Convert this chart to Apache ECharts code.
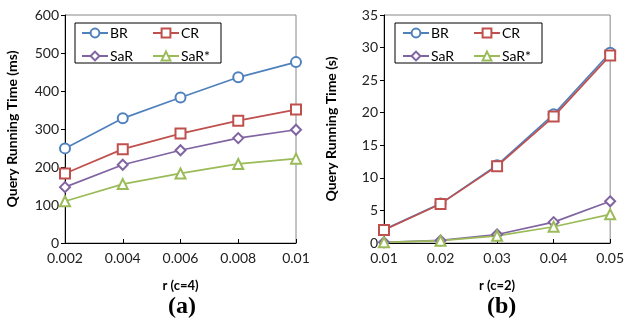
<!DOCTYPE html>
<html>
<head>
<meta charset="utf-8">
<script src="https://cdn.jsdelivr.net/npm/echarts@6/dist/echarts.min.js"></script>
<style>
  html, body { margin: 0; padding: 0; background: #fff; }
  #chart { width: 627px; height: 329px; }
</style>
</head>
<body>
<div id="chart"></div>
<script>
// panel (a): c=4, times in ms
const rLeft = ['0.002', '0.004', '0.006', '0.008', '0.01'];
const brLeft = [249, 328, 383, 436, 476];
const crLeft = [183, 247, 288, 322, 351];
const sarLeft = [147, 206, 244, 276, 298];
const sarStarLeft = [110, 155, 183, 208, 222];

// panel (b): c=2, times in s
const rRight = ['0.01', '0.02', '0.03', '0.04', '0.05'];
const brRight = [2.05, 6.05, 11.95, 19.75, 29.2];
const crRight = [2.0, 6.0, 11.8, 19.4, 28.8];
const sarRight = [0.1, 0.4, 1.3, 3.2, 6.4];
const sarStarRight = [0.1, 0.35, 1.1, 2.5, 4.4];

const FONT = 'Lato';
const colors = { BR: '#4F81BD', CR: '#C0504D', SaR: '#8064A2', 'SaR*': '#9BBB59' };
const symbols = { BR: 'emptyCircle', CR: 'emptyRect', SaR: 'emptyDiamond', 'SaR*': 'emptyTriangle' };

function mkSeries(name, data, idx) {
    return {
        name: name,
        type: 'line',
        xAxisIndex: idx,
        yAxisIndex: idx,
        data: data,
        symbol: symbols[name],
        symbolSize: 10,
        color: colors[name],
        lineStyle: { width: 1.7, color: colors[name] },
        itemStyle: { color: colors[name], borderWidth: 1.6 }
    };
}

function mkXAxis(idx, cats, name) {
    return {
        type: 'category',
        gridIndex: idx,
        data: cats,
        boundaryGap: false,
        name: name,
        nameLocation: 'middle',
        nameGap: 36,
        nameTextStyle: { fontFamily: FONT, fontWeight: 'bold', fontSize: 13, color: '#000' },
        axisLine: { lineStyle: { color: '#000', width: 1 } },
        axisTick: { inside: true, length: 4, lineStyle: { color: '#000' } },
        axisLabel: { fontFamily: FONT, fontSize: 14, color: '#222', margin: 8 },
        splitLine: { show: false }
    };
}

function mkYAxis(idx, max, interval, name) {
    return {
        type: 'value',
        gridIndex: idx,
        min: 0,
        max: max,
        interval: interval,
        name: name,
        nameLocation: 'middle',
        nameGap: 46,
        nameTextStyle: { fontFamily: FONT, fontWeight: 'bold', fontSize: 14, color: '#000' },
        axisLine: { show: true, lineStyle: { color: '#000', width: 1 } },
        axisTick: { show: true, length: 4, lineStyle: { color: '#000' } },
        axisLabel: { fontFamily: FONT, fontSize: 14, color: '#222', margin: 6 },
        splitLine: { show: false }
    };
}

function mkLegend(left, names) {
    return {
        orient: 'vertical',
        left: left,
        top: 26,
        itemWidth: 26,
        itemHeight: 11,
        itemGap: 9,
        padding: 0,
        textStyle: { fontFamily: FONT, fontSize: 14, color: '#000', padding: [0, 0, 0, -3] },
        data: names
    };
}

const option = {
    backgroundColor: '#fff',
    animation: false,
    grid: [
        { left: 65, right: 331, top: 15, bottom: 86, show: true, borderColor: '#888', borderWidth: 1 },
        { left: 384, right: 14, top: 15, bottom: 86, show: true, borderColor: '#888', borderWidth: 1 }
    ],
    title: [
        { text: '(a)', left: 163, top: 290, textStyle: { fontFamily: 'Liberation Serif', fontWeight: 'bold', fontSize: 24, color: '#000' } },
        { text: '(b)', left: 482, top: 290, textStyle: { fontFamily: 'Liberation Serif', fontWeight: 'bold', fontSize: 24, color: '#000' } }
    ],
    legend: [
        mkLegend(81, ['BR', 'SaR']),
        mkLegend(152, ['CR', 'SaR*']),
        mkLegend(402, ['BR', 'SaR']),
        mkLegend(473, ['CR', 'SaR*'])
    ],
    graphic: [
        { type: 'rect', shape: { x: 75, y: 23, width: 146, height: 40 }, style: { fill: 'none', stroke: '#000', lineWidth: 1 }, z: 10 },
        { type: 'rect', shape: { x: 395, y: 23, width: 147, height: 40 }, style: { fill: 'none', stroke: '#000', lineWidth: 1 }, z: 10 }
    ],
    xAxis: [mkXAxis(0, rLeft, 'r (c=4)'), mkXAxis(1, rRight, 'r (c=2)')],
    yAxis: [mkYAxis(0, 600, 100, 'Query Running Time (ms)'), mkYAxis(1, 35, 5, 'Query Running Time (s)')],
    series: [
        mkSeries('BR', brLeft, 0),
        mkSeries('CR', crLeft, 0),
        mkSeries('SaR', sarLeft, 0),
        mkSeries('SaR*', sarStarLeft, 0),
        mkSeries('BR', brRight, 1),
        mkSeries('CR', crRight, 1),
        mkSeries('SaR', sarRight, 1),
        mkSeries('SaR*', sarStarRight, 1)
    ]
};

const myChart = echarts.init(document.getElementById('chart'), null, { renderer: 'canvas' });
myChart.setOption(option);
</script>
</body>
</html>
